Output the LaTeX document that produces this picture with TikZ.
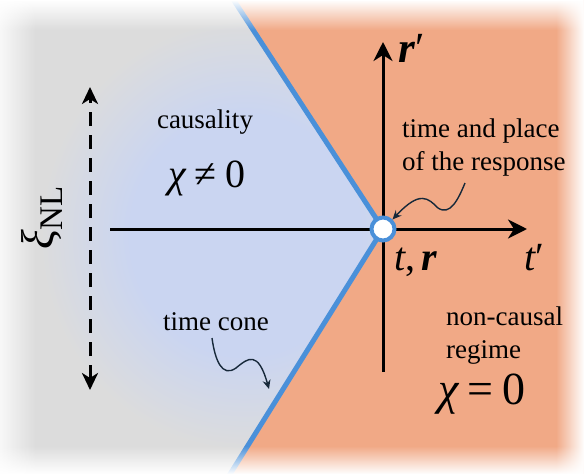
\documentclass[tikz,border=0pt]{standalone}
\usepackage{fontspec}
\setmainfont{Liberation Serif}
\usetikzlibrary{arrows.meta,fadings}
\definecolor{bggray}{HTML}{DCDCDC}
\definecolor{coneblue}{HTML}{CAD5F1}
\definecolor{salmon}{HTML}{F1A986}
\definecolor{lineblue}{HTML}{4A90D9}
\definecolor{squig}{HTML}{17293A}
\pgfdeclareradialshading{cloud}{\pgfpoint{0bp}{0bp}}{color(0bp)=(coneblue); color(14bp)=(coneblue); color(25bp)=(bggray); color(50bp)=(bggray)}
\tikzset{
  axisline/.style={line width=3pt, black, -{Stealth[length=19pt,width=19pt,inset=6pt]}},
  squigarrow/.style={squig, line width=1.4pt, -{Stealth[length=9pt,width=8pt,inset=3pt]}},
  lbl/.style={inner sep=0pt, font=\fontsize{27}{33}\selectfont, align=left},
  edgefade/.style={white},
}
\begin{document}
\begin{tikzpicture}[x=1pt,y=-1pt]
\useasboundingbox (0,0) rectangle (584,474);
% background
\fill[bggray] (0,0) rectangle (584,474);
\begin{scope}
  \clip (0,0) -- (233,0) -- (383,229) -- (230,474) -- (0,474) -- cycle;
  \shade[shading=cloud] (245,235) ellipse [x radius=205, y radius=215];
\end{scope}
\fill[salmon] (233,0) -- (584,0) -- (584,474) -- (230,474) -- (383,229) -- cycle;
% cone lines
\coordinate (O) at (383,229);
\coordinate (ctop) at (231,-4);
\coordinate (cbot) at (227,479);
\draw[lineblue, line width=5pt] (ctop) -- (O) -- (cbot);
% edge fades
\fill[edgefade, path fading=south] (0,0) rectangle (584,30);
\fill[edgefade, path fading=west] (556,0) rectangle (584,474);
\fill[edgefade, opacity=0.8, path fading=east] (0,0) rectangle (36,474);
\fill[edgefade, path fading=north] (0,446) rectangle (584,474);
% axes
\coordinate (hstart) at (110,229);
\coordinate (hend) at (527,229);
\coordinate (vstart) at (383,372);
\coordinate (vend) at (383,42);
\draw[axisline] (hstart) -- (hend);
\draw[axisline] (vstart) -- (vend);
\node[circle, fill=white, draw=lineblue, line width=4pt, minimum size=23pt, inner sep=0pt] (resp) at (O) {};
% axis labels
\node[inner sep=0pt, anchor=base west, font=\fontsize{43}{43}\selectfont] (rp) at (398,62) {\bfseries\itshape r\mdseries\upshape\kern1pt′};
\node[inner sep=0pt, anchor=base west, font=\fontsize{40}{40}\selectfont] (tr) at (394,270) {\itshape t\upshape,\kern6pt\bfseries\itshape r};
\node[inner sep=0pt, anchor=base west, font=\fontsize{40}{40}\selectfont] (tp) at (524,270) {\itshape t\upshape′};
% xi_NL dashed arrow
\coordinate (dtop) at (90,87);
\coordinate (dbot) at (90,390);
\draw[line width=3pt, dash pattern=on 14pt off 9pt, {Stealth[length=17pt,width=16pt,inset=5pt]}-{Stealth[length=17pt,width=16pt,inset=5pt]}] (dbot) -- (dtop);
\node[rotate=90, inner sep=0pt] (xi) at (42,218) {\fontsize{46}{46}\selectfont\itshape ξ\upshape\fontsize{33}{33}\selectfont\raisebox{-9pt}{NL}};
% causal region texts
\node[lbl, anchor=base] (caus) at (205,128) {causality};
\node[inner sep=0pt, anchor=base, font=\fontsize{40}{40}\selectfont] (chi1) at (207,187) {\itshape χ\upshape\kern9pt≠\kern9pt0};
\node[lbl, anchor=base] (tcone) at (216,330) {time cone};
% non-causal texts
\node[lbl, anchor=base west] (resptxt) at (402,170) {time and place\\of the response};
\node[lbl, anchor=base west] (nc) at (446,358) {non-causal\\regime};
\node[inner sep=0pt, anchor=base west, font=\fontsize{46}{46}\selectfont] (chi2) at (438,404) {\itshape χ\upshape\kern9pt=\kern9pt0};
% squiggly arrows
\coordinate (s1a) at (212,338);
\coordinate (s1b) at (269,389);
\draw[squigarrow] (s1a) .. controls (215,360) and (222,378) .. (236,368)
  .. controls (248,358) and (258,350) .. (s1b);
\coordinate (s2a) at (465,183);
\draw[squigarrow] (s2a) .. controls (458,200) and (450,216) .. (438,208)
  .. controls (428,198) and (420,190) .. (resp.north east);
\end{tikzpicture}
\end{document}
